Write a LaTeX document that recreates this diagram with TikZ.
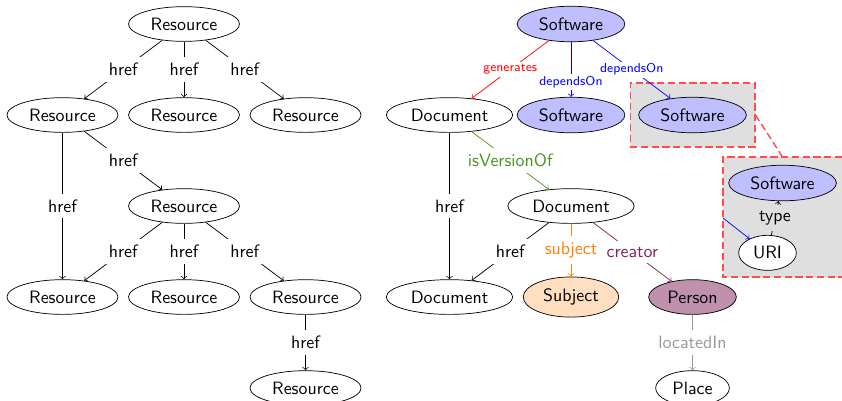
\documentclass[tikz,border=0pt]{standalone}
\usepackage{xcolor}
\usepackage{tikz}
\usetikzlibrary{shapes.geometric, positioning, fit, backgrounds}

\definecolor{personcol}{RGB}{128,35,92}
\definecolor{versioncol}{RGB}{77,146,33}

\begin{document}
\begin{tikzpicture}[
        x=0.5587pt, y=-0.5587pt,
        font=\sffamily,
        node distance=1.787cm and 2.386cm, on grid,
        res/.style={ellipse, draw, fill=white},
        soft/.style={ellipse, draw, fill=blue!25},
        lbl/.style={fill=white},
        small/.style={font=\sffamily\fontsize{7.2pt}{8.6pt}\selectfont, inner sep=1.2pt},
        zoombox/.style={draw=red!70, thick, dash pattern=on 4pt off 2pt, fill=gray!25},
        zoomline/.style={draw=red!70, thick, dash pattern=on 4pt off 2pt}
    ]
    \useasboundingbox (0,0) rectangle (842,400);

    % Plain link tree
    \node[res] (r0) at (184,24) {Resource};
    \node[res, below left=of r0] (r1) {Resource};
    \node[res, below=of r0] (r2) {Resource};
    \node[res, below right=of r0] (r3) {Resource};
    \node[res, below right=of r1] (r4) {Resource};
    \node[res, below left=of r4] (r5) {Resource};
    \node[res, below=of r4] (r6) {Resource};
    \node[res, below right=of r4] (r7) {Resource};
    \node[res, below=of r7] (r8) {Resource};

    \draw[->] (r0) -- node[lbl] {href} (r1);
    \draw[->] (r0) -- node[lbl] {href} (r2);
    \draw[->] (r0) -- node[lbl] {href} (r3);
    \draw[->] (r1) -- node[lbl] {href} (r4);
    \draw[->] (r1) -- node[lbl] {href} (r5);
    \draw[->] (r4) -- node[lbl] {href} (r5);
    \draw[->] (r4) -- node[lbl] {href} (r6);
    \draw[->] (r4) -- node[lbl] {href} (r7);
    \draw[->] (r7) -- node[lbl] {href} (r8);

    % Typed graph
    \node[soft] (s0) at (571,24) {Software};
    \node[res, below left=of s0] (d1) {Document};
    \node[soft, below=of s0] (s1) {Software};
    \node[soft, below right=of s0] (s2) {Software};
    \node[res, below right=of d1] (d2) {Document};
    \node[res, below left=of d2] (d3) {Document};
    \node[res, fill=orange!25, below=of d2] (subj) {Subject};
    \node[res, fill=personcol!50, below right=of d2] (pers) {Person};
    \node[res, below=of pers] (place) {Place};

    % Zoomed view
    \node[soft, below right=38pt and 50.3pt of s2] (sw) {Software};
    \node[res, below left=39pt and 8.4pt of sw] (uri) {URI};
    \coordinate (bigtl) at (723,157);
    \coordinate (ztop) at (sw |- bigtl);
    \coordinate (zleft) at (723,218);

    \begin{scope}[on background layer]
        \node[zoombox, fit=(s2), inner xsep=4.5pt, inner ysep=7.8pt] (zoomsmall) {};
        \fill[gray!25] (723,157) rectangle (842,277);
        \draw[zoomline] (842,157) -- (bigtl) -- (723,277) -- (842,277);
    \end{scope}

    \draw[->, blue] (s0) -- node[lbl, small] {dependsOn} (s2);
    \draw[->, red] (s0) -- node[lbl, small] {generates} (d1);
    \draw[->, blue] (s0) -- node[lbl, small, pos=0.73] {dependsOn} (s1);
    \draw[->, versioncol] (d1) -- node[lbl] {isVersionOf} (d2);
    \draw[->] (d1) -- node[lbl] {href} (d3);
    \draw[->] (d2) -- node[lbl] {href} (d3);
    \draw[->, orange] (d2) -- node[lbl] {subject} (subj);
    \draw[->, personcol] (d2) -- node[lbl] {creator} (pers);
    \draw[->, gray!80] (pers) -- node[lbl] {locatedIn} (place);

    \draw[zoomline] (zoomsmall.east) -- (ztop);
    \draw[->, blue] (zleft) -- (uri);
    \draw[->] (uri) -- node[lbl, fill=gray!25] {type} (sw);

\end{tikzpicture}
\end{document}
